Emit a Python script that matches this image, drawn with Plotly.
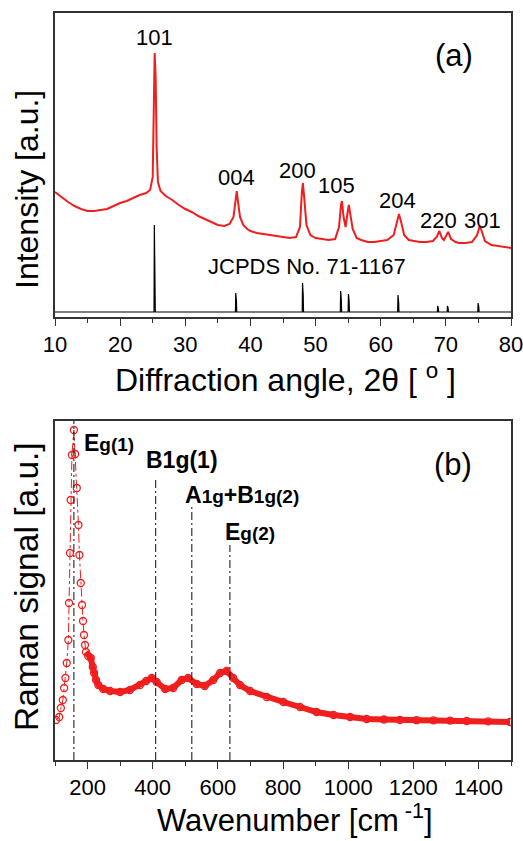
import plotly.graph_objects as go

# ---------------- data (a): XRD ----------------
xrd_theta = [10, 11, 12, 13, 14, 15, 16, 17, 18, 19, 20, 21, 22, 23, 24, 24.6, 25.0, 25.15, 25.3, 25.45, 25.6, 25.8,
             26.2, 27, 28, 29, 30, 31, 32, 33, 34, 35, 36, 36.8, 37.4, 37.7, 37.9, 38.1, 38.4, 38.9, 39.5, 40,
             41, 42, 43, 44, 45, 46, 47, 47.6, 47.9, 48.05, 48.25, 48.6, 49.2, 50, 51, 52, 53, 53.6, 53.9, 54.05,
             54.3, 54.6, 54.9, 55.1, 55.3, 55.7, 56.3, 57, 58, 59, 60, 61, 62, 62.5, 62.8, 63.1, 63.6, 64.3, 65,
             66, 67, 68, 68.6, 69.0, 69.4, 69.7, 70.35, 70.8, 71.5, 72, 73, 74, 74.8, 75.2, 75.5, 76, 77, 78, 79, 80]
xrd_int = [125, 120, 115, 111, 108, 106, 106, 107, 108, 111, 114, 116, 119, 122, 124, 127, 140, 200, 264, 240, 170, 135,
           126, 121, 117, 112, 108, 105, 101, 98, 95, 92, 91, 93, 100, 118, 126, 115, 100, 92, 88, 86,
           84, 83, 82, 81, 80, 79, 80, 90, 125, 134, 120, 92, 82, 79, 78, 77, 78, 90, 112, 116,
           100, 90, 104, 112, 104, 88, 79, 77, 75, 75, 76, 77, 82, 95, 103, 96, 82, 77, 76,
           75, 75, 76, 80, 86, 79, 77, 85, 78, 75, 74, 74, 75, 82, 91, 86, 76, 72, 71, 70, 69]

ref_base = 5
ref_pos = [25.3, 37.8, 48.05, 53.9, 55.1, 62.7, 68.8, 70.3, 75.0]
ref_int = [87, 19, 29, 21, 18, 17, 6, 6, 9]

hkl_labels = ["101", "004", "200", "105", "204", "220", "301"]
hkl_x = [25.2, 37.85, 47.2, 53.2, 62.5, 68.9, 75.7]
hkl_y = [279, 139, 146, 131, 116, 96, 96]

# ---------------- data (b): Raman ----------------
raman_x = [103, 113, 118, 124, 128, 132, 136, 141, 143, 146, 148, 152, 158, 162, 167, 172, 175, 179, 183, 186,
           189, 192, 195, 202, 210, 216, 220, 226, 233, 248, 269, 300, 330, 361, 380, 397, 412, 438, 463, 489,
           509, 535, 560, 586, 607, 627, 647, 668, 699, 750, 801, 852, 903, 955, 1006, 1057, 1110, 1159, 1210,
           1262, 1313, 1364, 1430, 1497]
raman_y = [40, 43, 52, 60, 72, 82, 97, 120, 157, 207, 260, 305, 330, 306, 272, 235, 205, 177, 155, 139,
           125, 115, 108, 104, 102, 93, 87, 80, 75, 71, 69, 68, 70, 75, 79, 82, 78, 71, 72, 80,
           82, 76, 74, 80, 87, 89, 82, 75, 69, 63, 58, 53, 48, 45, 43, 41, 40.5, 40, 39.8,
           39.7, 39.4, 39, 38.6, 38]

mode_pos = [158, 409, 520, 637]
mode_top = [339, 283, 255, 215]
mode_labels = ["<b>E</b><span style='font-size:19px'><b>g(1)</b></span>",
               "<b>B1g(1)</b>",
               "<b>A</b><span style='font-size:19px'><b>1g</b></span><b>+B</b><span style='font-size:19px'><b>1g(2)</b></span>",
               "<b>E</b><span style='font-size:19px'><b>g(2)</b></span>"]
mode_lx = [267, 490, 674, 699]
mode_ly = [317, 300, 265, 228]

RED = "#f01e1e"
FONT = "Liberation Sans, Arial, sans-serif"
W, H = 523, 841

fig = go.Figure()

# XRD measured
fig.add_trace(go.Scatter(x=xrd_theta, y=xrd_int, mode="lines", line=dict(color=RED, width=2),
                         xaxis="x", yaxis="y", showlegend=False))
# JCPDS reference sticks
rx, ry = [10], [ref_base]
for p, h in zip(ref_pos, ref_int):
    rx += [p - 0.1, p - 0.05, p + 0.05, p + 0.1]
    ry += [ref_base, ref_base + h, ref_base + h * 0.6, ref_base]
rx.append(80)
ry.append(ref_base)
fig.add_trace(go.Scatter(x=rx, y=ry, mode="lines", line=dict(color="black", width=1.2),
                         xaxis="x", yaxis="y", showlegend=False))

# Raman band (dense region)
band_x = [x for x in raman_x if x >= 195]
band_y = [y for x, y in zip(raman_x, raman_y) if x >= 195]
fig.add_trace(go.Scatter(x=band_x, y=band_y, mode="lines", line=dict(color=RED, width=6),
                         xaxis="x2", yaxis="y2", showlegend=False))
fig.add_trace(go.Scatter(x=raman_x, y=raman_y, mode="lines+markers",
                         line=dict(color=RED, width=1, dash="dashdot"),
                         marker=dict(symbol="circle-open", size=7, color=RED, line=dict(width=1.3, color=RED)),
                         xaxis="x2", yaxis="y2", showlegend=False))
# mode lines
for p, t in zip(mode_pos, mode_top):
    fig.add_trace(go.Scatter(x=[p, p], y=[0, t], mode="lines",
                             line=dict(color="#222", width=1.1, dash="8px,3px,2px,3px"),
                             xaxis="x2", yaxis="y2", showlegend=False))

ann = []
for t, x, y in zip(hkl_labels, hkl_x, hkl_y):
    ann.append(dict(x=x, y=y, xref="x", yref="y", text=t, showarrow=False,
                    xanchor="center", yanchor="middle",
                    font=dict(size=22, color="black", family=FONT)))
ann.append(dict(x=48.7, y=51, xref="x", yref="y", text="JCPDS No. 71-1167", showarrow=False,
                xanchor="center", yanchor="middle",
                font=dict(size=22, color="black", family=FONT)))
for t, x, y in zip(mode_labels, mode_lx, mode_ly):
    ann.append(dict(x=x, y=y, xref="x2", yref="y2", text=t, showarrow=False,
                    xanchor="center", yanchor="middle",
                    font=dict(size=23, color="black", family=FONT)))


def px(xp):
    return xp / W


def py(yp):
    return 1 - yp / H


def paper_ann(text, x, y, size, angle=0):
    return dict(x=px(x), y=py(y), xref="paper", yref="paper", text=text, showarrow=False,
                xanchor="center", yanchor="middle", textangle=angle,
                font=dict(size=size, color="black", family=FONT))


ann += [
    paper_ann("(a)", 454, 55, 31),
    paper_ann("(b)", 453, 464, 31),
    paper_ann("Diffraction angle, 2θ [ <sup>o</sup> ]", 285, 378, 32),
    paper_ann("Wavenumber [cm<sup> -1</sup>]", 295, 818, 31),
    paper_ann("Intensity [a.u.]", 27, 190, 32, -90),
    paper_ann("Raman signal [a.u.]", 26, 587, 33.5, -90),
]

axis_common = dict(showline=True, linecolor="#333", linewidth=1.5, mirror=True, showgrid=False,
                   zeroline=False, automargin=False)

fig.update_layout(
    width=W, height=H, margin=dict(l=0, r=0, t=0, b=0, pad=0, autoexpand=False),
    paper_bgcolor="white", plot_bgcolor="white",
    font=dict(family=FONT, color="black"),
    xaxis=dict(domain=[px(55), px(511)], range=[10, 80], anchor="y",
               tickvals=[10, 20, 30, 40, 50, 60, 70, 80], ticks="outside", ticklen=7, tickwidth=1.3,
               tickcolor="#333", tickfont=dict(size=22, family=FONT, color="black"),
               ticklabeloverflow="allow",
               minor=dict(dtick=5, tick0=5, ticks="outside", ticklen=4, tickwidth=1.2, tickcolor="#333"),
               **axis_common),
    yaxis=dict(domain=[py(317), py(13)], range=[0, 304], anchor="x", showticklabels=False, ticks="",
               **axis_common),
    xaxis2=dict(domain=[px(55), px(511)], range=[100, 1500], anchor="y2",
                tickvals=[200, 400, 600, 800, 1000, 1200, 1400], ticks="outside", ticklen=7, tickwidth=1.3,
                tickcolor="#333", tickfont=dict(size=22, family=FONT, color="black"),
                ticklabeloverflow="allow",
                minor=dict(dtick=200, tick0=100, ticks="outside", ticklen=4, tickwidth=1.2, tickcolor="#333"),
                **axis_common),
    yaxis2=dict(domain=[py(760), py(421)], range=[0, 339], anchor="x2", showticklabels=False, ticks="",
                **axis_common),
    annotations=ann,
)

fig.write_html("out.html")
